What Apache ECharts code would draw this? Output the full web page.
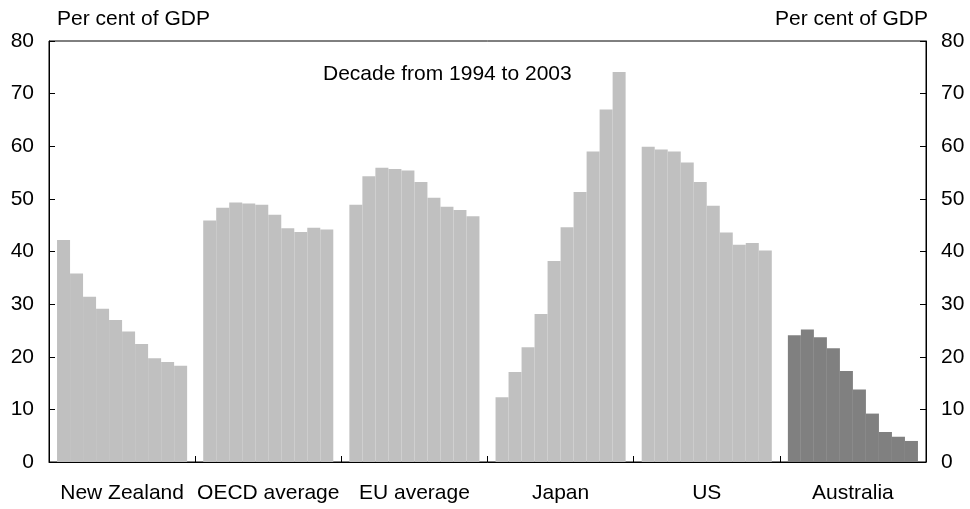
<!DOCTYPE html>
<html>
<head>
<meta charset="utf-8">
<script src="https://cdn.jsdelivr.net/npm/echarts@6/dist/echarts.min.js"></script>
<style>html,body{margin:0;padding:0;background:#fff}#c{width:970px;height:509px}</style>
</head>
<body>
<div id="c"></div>
<script>
const countries = ['New Zealand', 'OECD average', 'EU average', 'Japan', 'US', 'Australia'];
const years = ['1994','1995','1996','1997','1998','1999','2000','2001','2002','2003'];
const newZealand = [42.2, 35.8, 31.4, 29.1, 27.0, 24.8, 22.4, 19.7, 19.0, 18.3];
const oecd = [45.9, 48.3, 49.3, 49.1, 48.9, 47.0, 44.4, 43.7, 44.5, 44.2];
const eu = [48.9, 54.3, 55.9, 55.7, 55.4, 53.2, 50.2, 48.5, 47.9, 46.7];
const japan = [12.3, 17.1, 21.8, 28.1, 38.2, 44.6, 51.3, 59.0, 67.0, 74.1];
const us = [59.9, 59.4, 59.0, 56.9, 53.2, 48.7, 43.6, 41.3, 41.6, 40.2];
const australia = [24.1, 25.2, 23.7, 21.6, 17.3, 13.8, 9.2, 5.7, 4.8, 4.0];
const yTicks = [0, 10, 20, 30, 40, 50, 60, 70, 80];

const groups = [newZealand, oecd, eu, japan, us, australia];
const FONT = 'Liberation Sans, Arial, sans-serif';
const FS = 21;
const series = years.map((y, i) => ({
  type: 'bar',
  name: y,
  barGap: '0%',
  barCategoryGap: '11%',
  data: groups.map((g, gi) => ({
    value: g[i],
    itemStyle: { color: gi === 5 ? '#808080' : '#c0c0c0' }
  })),
  silent: true,
  animation: false
}));

const yAxisBase = (pos) => ({
  type: 'value',
  position: pos,
  min: yTicks[0],
  max: yTicks[yTicks.length - 1],
  interval: 10,
  axisLine: { show: true, lineStyle: { color: '#000', width: 1 } },
  axisTick: { show: true, inside: true, length: 6, lineStyle: { color: '#000' } },
  axisLabel: { color: '#000', fontSize: FS, fontFamily: FONT, margin: 15 },
  splitLine: { show: false }
});

const chart = echarts.init(document.getElementById('c'), null, { renderer: 'canvas' });
chart.setOption({
  animation: false,
  backgroundColor: '#fff',
  grid: { left: 49, right: 44, top: 41, bottom: 47, show: true, borderColor: '#000', borderWidth: 1, backgroundColor: 'transparent' },
  xAxis: {
    type: 'category',
    data: countries,
    boundaryGap: true,
    axisLine: { show: true, lineStyle: { color: '#000', width: 1 } },
    axisTick: { show: true, inside: true, length: 6, alignWithLabel: false, lineStyle: { color: '#000' } },
    axisLabel: { color: '#000', fontSize: FS, fontFamily: FONT, margin: 21, interval: 0 }
  },
  yAxis: [yAxisBase('left'), yAxisBase('right')],
  series: series,
  graphic: [
    { type: 'text', left: 57, top: 9, style: { text: 'Per cent of GDP', fontSize: FS, fontFamily: FONT, fill: '#000' } },
    { type: 'text', right: 42, top: 9, style: { text: 'Per cent of GDP', fontSize: FS, fontFamily: FONT, fill: '#000' } },
    { type: 'text', left: 323, top: 64, style: { text: 'Decade from 1994 to 2003', fontSize: FS, fontFamily: FONT, fill: '#000' } }
  ]
});
</script>
</body>
</html>
